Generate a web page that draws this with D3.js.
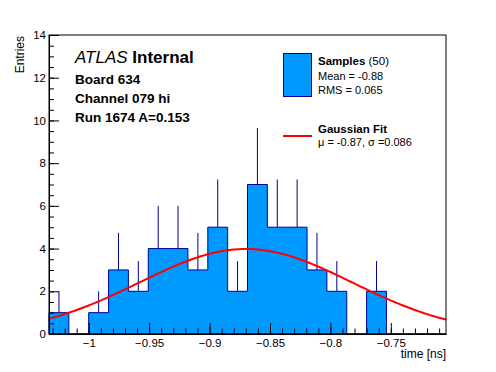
<!DOCTYPE html>
<html>
<head>
  <meta charset="utf-8">
  <script src="https://cdn.jsdelivr.net/npm/d3@7"></script>
  <style>
    body { margin: 0; background: #fff; }
    svg { font-family: "Liberation Sans", Arial, Helvetica, sans-serif; }
    .axis path { stroke: #000; }
    .axis line { stroke: #000; }
    .axis text { font-size: 11.5px; fill: #000; }
  </style>
</head>
<body>
  <svg id="chart" width="496" height="372"></svg>
  <script>
    // histogram: 20 bins between xMin and xMax
    var xMin = -1.0329, xMax = -0.7043;
    var counts = [1, 0, 1, 3, 2, 4, 4, 3, 5, 2, 7, 5, 5, 3, 2, 0, 2, 0, 0, 0];
    var xTicks = [-1, -0.95, -0.9, -0.85, -0.8, -0.75];
    var yTicks = [0, 2, 4, 6, 8, 10, 12, 14];

    // gaussian fit
    var fitAmp = 3.98, fitMean = -0.87, fitSigma = 0.088;

    var infoLines = ['Board 634', 'Channel 079 hi', 'Run 1674 A=0.153'];

    var svg = d3.select('#chart');
    var pL = 49, pR = 446, pT = 35, pB = 334;

    var x = d3.scaleLinear().domain([xMin, xMax]).range([pL, pR]);
    var y = d3.scaleLinear().domain([0, 14]).range([pB, pT]);

    var binW = (xMax - xMin) / counts.length;
    var bins = counts.map((c, i) => ({ x0: xMin + i * binW, x1: xMin + (i + 1) * binW, n: c }));

    // step outline of the histogram
    var pts = [[xMin, 0]];
    bins.forEach(b => { pts.push([b.x0, b.n]); pts.push([b.x1, b.n]); });
    pts.push([xMax, 0]);

    svg.append('path')
      .attr('d', d3.line().x(d => x(d[0])).y(d => y(d[1]))(pts) + 'Z')
      .attr('fill', '#0099ff')
      .attr('stroke', '#000099')
      .attr('stroke-width', 1);

    // upper error bars
    svg.selectAll('line.err')
      .data(bins.filter(b => b.n > 0))
      .enter().append('line')
      .attr('class', 'err')
      .attr('x1', d => x((d.x0 + d.x1) / 2))
      .attr('x2', d => x((d.x0 + d.x1) / 2))
      .attr('y1', d => y(d.n))
      .attr('y2', d => y(d.n + Math.sqrt(d.n)))
      .attr('stroke', '#000099')
      .attr('stroke-width', 1);

    // fit curve
    var fitX = d3.range(0, 201).map(i => xMin + (xMax - xMin) * i / 200);
    var gauss = v => fitAmp * Math.exp(-0.5 * Math.pow((v - fitMean) / fitSigma, 2));
    svg.append('path')
      .attr('d', d3.line().x(d => x(d)).y(d => y(gauss(d)))(fitX))
      .attr('fill', 'none')
      .attr('stroke', '#ff0000')
      .attr('stroke-width', 2);

    // axes, ticks pointing inward
    svg.append('g').attr('class', 'axis')
      .attr('transform', 'translate(0,' + pB + ')')
      .call(d3.axisBottom(x).tickValues(x.ticks(30)).tickSize(-5.5).tickSizeOuter(0).tickFormat(''));
    svg.append('g').attr('class', 'axis')
      .attr('transform', 'translate(0,' + pB + ')')
      .call(d3.axisBottom(x).tickValues(xTicks).tickSize(-11).tickSizeOuter(0).tickPadding(5)
        .tickFormat(d3.format('~g')));

    svg.append('g').attr('class', 'axis')
      .attr('transform', 'translate(' + pL + ',0)')
      .call(d3.axisLeft(y).tickValues(y.ticks(28)).tickSize(-5).tickSizeOuter(0).tickFormat(''));
    svg.append('g').attr('class', 'axis')
      .attr('transform', 'translate(' + pL + ',0)')
      .call(d3.axisLeft(y).tickValues(yTicks).tickSize(-10).tickSizeOuter(0).tickPadding(3));

    svg.append('rect')
      .attr('x', pL).attr('y', pT)
      .attr('width', pR - pL).attr('height', pB - pT)
      .attr('fill', 'none').attr('stroke', '#000').attr('stroke-width', 1);

    // axis titles
    svg.append('text')
      .attr('x', pR).attr('y', 358)
      .attr('text-anchor', 'end')
      .style('font-size', '12px')
      .text('time [ns]');
    svg.append('text')
      .attr('transform', 'translate(24,' + (pT + 1) + ') rotate(-90)')
      .attr('text-anchor', 'end')
      .style('font-size', '12px')
      .text('Entries');

    // ATLAS label
    var atlas = svg.append('text').attr('x', 75).attr('y', 63).style('font-size', '17px');
    atlas.append('tspan').style('font-style', 'italic').text('ATLAS');
    atlas.append('tspan').style('font-weight', 'bold').text(' Internal');

    svg.selectAll('text.info')
      .data(infoLines)
      .enter().append('text')
      .attr('class', 'info')
      .attr('x', 75)
      .attr('y', (d, i) => 84 + i * 19)
      .style('font-size', '13.5px')
      .style('font-weight', 'bold')
      .text(d => d);

    // legend
    var lg = svg.append('g');
    lg.append('rect')
      .attr('x', 283.5).attr('y', 53.5).attr('width', 28).attr('height', 43)
      .attr('fill', '#0099ff').attr('stroke', '#000099');
    var t1 = lg.append('text').attr('x', 318).attr('y', 65).style('font-size', '11.5px');
    t1.append('tspan').style('font-weight', 'bold').text('Samples');
    t1.append('tspan').text(' (50)');
    lg.append('text').attr('x', 318).attr('y', 79.5).style('font-size', '11px').text('Mean = -0.88');
    lg.append('text').attr('x', 318).attr('y', 93.5).style('font-size', '11px').text('RMS = 0.065');

    lg.append('line')
      .attr('x1', 283).attr('x2', 312).attr('y1', 136).attr('y2', 136)
      .attr('stroke', '#ff0000').attr('stroke-width', 2);
    lg.append('text').attr('x', 318).attr('y', 132.5)
      .style('font-size', '11.5px').style('font-weight', 'bold').text('Gaussian Fit');
    lg.append('text').attr('x', 318).attr('y', 145.5)
      .style('font-size', '11px').text('\u03bc = -0.87, \u03c3 =0.086');
  </script>
</body>
</html>
